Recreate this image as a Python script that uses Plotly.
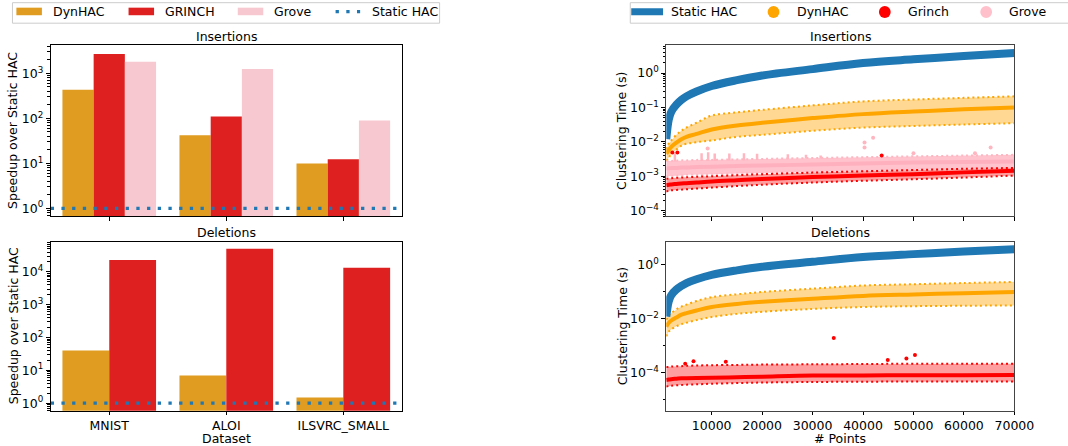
import plotly.graph_objects as go

# ---------------- speedup over Static HAC (bars) ----------------
datasets = ["MNIST", "ALOI", "ILSVRC_SMALL"]
ins_dynhac = [435, 42, 10]
ins_grinch = [2700, 110, 12.3]
ins_grove = [1810, 1260, 90]
del_dynhac = [40, 7, 1.5]
del_grinch = [23000, 50000, 13200]
static_speedup = 1.0

# ---------------- clustering time vs number of points ----------------
n_points = [1000, 1500, 2000, 3000, 4000, 5000, 7000, 10000, 15000,
            20000, 30000, 40000, 50000, 60000, 70000]
static_time = [0.012, 0.045, 0.075, 0.12, 0.165, 0.21, 0.29, 0.42, 0.62,
               0.85, 1.3, 1.95, 2.5, 3.1, 3.8]

# insertions
ins_dyn_med = [0.0045, 0.0058, 0.0072, 0.0095, 0.012, 0.014, 0.017, 0.023, 0.030,
               0.036, 0.049, 0.064, 0.076, 0.088, 0.10]
ins_dyn_hi = [0.006, 0.009, 0.011, 0.016, 0.021, 0.026, 0.036, 0.058, 0.072,
              0.085, 0.115, 0.15, 0.17, 0.19, 0.21]
ins_dyn_lo = [0.0028, 0.0035, 0.0045, 0.006, 0.0078, 0.0088, 0.0098, 0.011, 0.014,
              0.016, 0.021, 0.026, 0.029, 0.032, 0.035]
ins_grove_med = [1.7e-3, 1.7e-3, 1.75e-3, 1.75e-3, 1.8e-3, 1.8e-3, 1.85e-3, 1.9e-3, 2.0e-3,
                 2.05e-3, 2.2e-3, 2.35e-3, 2.5e-3, 2.6e-3, 2.7e-3]
ins_grove_hi = [2.8e-3, 2.8e-3, 2.8e-3, 2.85e-3, 2.9e-3, 2.9e-3, 3.0e-3, 3.0e-3, 3.1e-3,
                3.2e-3, 3.4e-3, 3.6e-3, 3.8e-3, 4.0e-3, 4.2e-3]
ins_grove_lo = [1.0e-3, 1.0e-3, 1.0e-3, 1.05e-3, 1.05e-3, 1.1e-3, 1.1e-3, 1.15e-3, 1.2e-3,
                1.25e-3, 1.35e-3, 1.45e-3, 1.55e-3, 1.65e-3, 1.7e-3]
ins_grinch_med = [5.5e-4, 5.7e-4, 5.8e-4, 6.0e-4, 6.2e-4, 6.3e-4, 6.6e-4, 7.1e-4, 7.7e-4,
                  8.3e-4, 9.5e-4, 1.05e-3, 1.15e-3, 1.3e-3, 1.45e-3]
ins_grinch_hi = [8.5e-4, 8.7e-4, 8.8e-4, 9.0e-4, 9.2e-4, 9.4e-4, 9.7e-4, 1.0e-3, 1.08e-3,
                 1.15e-3, 1.28e-3, 1.4e-3, 1.52e-3, 1.65e-3, 1.75e-3]
ins_grinch_lo = [3.6e-4, 3.8e-4, 3.9e-4, 4.0e-4, 4.1e-4, 4.2e-4, 4.4e-4, 4.7e-4, 5.2e-4,
                 5.7e-4, 6.6e-4, 7.4e-4, 8.2e-4, 9.2e-4, 1.05e-3]

# grove insertion spikes (x, base, top) and isolated outliers
grove_spike_x = [2700, 8000, 9300, 10600, 13500, 16400, 19000, 25100, 28700, 31600]
grove_spike_lo = [2.7e-3, 2.8e-3, 2.8e-3, 2.8e-3, 2.9e-3, 2.9e-3, 3.0e-3, 3.2e-3, 3.3e-3, 3.3e-3]
grove_spike_hi = [4.7e-3, 4.7e-3, 5.0e-3, 4.6e-3, 4.6e-3, 4.7e-3, 4.5e-3, 4.4e-3, 4.2e-3, 4.0e-3]
grove_out_x = [9200, 40300, 40300, 42000, 50000, 62200, 65300]
grove_out_y = [6.4e-3, 9.6e-3, 6.9e-3, 0.0131, 4.7e-3, 4.7e-3, 6.9e-3]
ins_grinch_out_x = [2200, 3200, 43700]
ins_grinch_out_y = [4.9e-3, 4.9e-3, 4.0e-3]

# deletions
del_dyn_med = [0.005, 0.007, 0.0085, 0.011, 0.014, 0.016, 0.02, 0.027, 0.035,
               0.042, 0.055, 0.07, 0.079, 0.088, 0.097]
del_dyn_hi = [0.009, 0.013, 0.016, 0.022, 0.028, 0.033, 0.045, 0.063, 0.08,
              0.098, 0.13, 0.17, 0.19, 0.21, 0.23]
del_dyn_lo = [0.0022, 0.0033, 0.004, 0.0052, 0.0062, 0.007, 0.0088, 0.0115, 0.015,
              0.018, 0.023, 0.027, 0.029, 0.030, 0.031]
del_grinch_med = [5.2e-5, 5.4e-5, 5.6e-5, 5.8e-5, 6.0e-5, 6.1e-5, 6.2e-5, 6.3e-5, 6.6e-5,
                  6.9e-5, 7.6e-5, 7.7e-5, 7.9e-5, 7.9e-5, 8.0e-5]
del_grinch_hi = [1.6e-4, 1.6e-4, 1.65e-4, 1.7e-4, 1.7e-4, 1.75e-4, 1.8e-4, 1.85e-4, 1.9e-4,
                 1.95e-4, 2.0e-4, 2.05e-4, 2.1e-4, 2.1e-4, 2.1e-4]
del_grinch_lo = [3.0e-5, 3.1e-5, 3.2e-5, 3.3e-5, 3.4e-5, 3.5e-5, 3.6e-5, 3.8e-5, 4.0e-5,
                 4.2e-5, 4.4e-5, 4.5e-5, 4.6e-5, 4.6e-5, 4.6e-5]
del_grinch_out_x = [4750, 6400, 12800, 34200, 44900, 48600, 50300]
del_grinch_out_y = [2.1e-4, 2.6e-4, 2.5e-4, 1.9e-3, 2.9e-4, 3.3e-4, 4.4e-4]

# ---------------- styling ----------------
W, H = 1068, 446
FONT = "DejaVu Sans"
FS = 12.5
BAR_DYN, BAR_GRINCH, BAR_GROVE = "#df9c20", "#df2020", "#f7c8d0"
BLUE = "#1f77b4"
ORANGE, RED, PINK = "#ffa500", "#ff0000", "#ffc0cb"


def px(x):
    return x / W


def py(y):
    return 1 - y / H


def sup(k):
    s = str(k).replace("-", "\u2212")
    return f"10<sup>{s}</sup>"


def minor_vals(lo, hi):
    return [m * 10 ** k for k in range(lo, hi + 1) for m in range(2, 10)]


fig = go.Figure()
ds_pos = list(range(len(datasets)))

# ---- left: insertions speedup ----
for vals, col in [(ins_dynhac, BAR_DYN), (ins_grinch, BAR_GRINCH), (ins_grove, BAR_GROVE)]:
    fig.add_trace(go.Bar(x=ds_pos, y=vals, marker=dict(color=col, line=dict(width=0)),
                         xaxis="x", yaxis="y", showlegend=False))
# ---- left: deletions speedup ----
for vals, col in [(del_dynhac, BAR_DYN), (del_grinch, BAR_GRINCH)]:
    fig.add_trace(go.Bar(x=ds_pos, y=vals, marker=dict(color=col, line=dict(width=0)),
                         xaxis="x2", yaxis="y2", showlegend=False))
# Static HAC reference line (speedup of 1)
for xa, ya in [("x", "y"), ("x2", "y2")]:
    fig.add_trace(go.Scatter(x=[-0.5, 2.5], y=[static_speedup, static_speedup], mode="lines",
                             line=dict(color=BLUE, width=3.3, dash="3.3px,7.4px"),
                             xaxis=xa, yaxis=ya, showlegend=False))


def band(x, lo, hi, med, color, fill, xa, ya, edge=True, med_w=4, edge_color=None):
    fig.add_trace(go.Scatter(x=x, y=lo, mode="lines", line=dict(width=0, color=fill),
                             xaxis=xa, yaxis=ya, showlegend=False, hoverinfo="skip"))
    fig.add_trace(go.Scatter(x=x, y=hi, mode="lines", line=dict(width=0, color=fill),
                             fill="tonexty", fillcolor=fill,
                             xaxis=xa, yaxis=ya, showlegend=False, hoverinfo="skip"))
    if edge:
        for e in (lo, hi):
            fig.add_trace(go.Scatter(x=x, y=e, mode="lines",
                                     line=dict(width=2, color=edge_color or color,
                                               dash="2px,3px", shape="spline"),
                                     xaxis=xa, yaxis=ya, showlegend=False))
    fig.add_trace(go.Scatter(x=x, y=med, mode="lines",
                             line=dict(width=med_w, color=color, shape="spline"),
                             xaxis=xa, yaxis=ya, showlegend=False))


# ---- right: insertions clustering time ----
band(n_points, ins_dyn_lo, ins_dyn_hi, ins_dyn_med, ORANGE, "rgba(255,165,0,0.42)", "x3", "y3")
band(n_points, ins_grove_lo, ins_grove_hi, ins_grove_med, "#ffb0be", "rgba(255,192,203,0.95)",
     "x3", "y3", edge=True, med_w=4, edge_color="#ffb6c1")
sx, sy = [], []
for x, lo, hi in zip(grove_spike_x, grove_spike_lo, grove_spike_hi):
    sx += [x, x, None]
    sy += [lo, hi, None]
fig.add_trace(go.Scatter(x=sx, y=sy, mode="lines", line=dict(color="#ffb6c1", width=2.5),
                         xaxis="x3", yaxis="y3", showlegend=False))
fig.add_trace(go.Scatter(x=grove_out_x, y=grove_out_y, mode="markers",
                         marker=dict(color="#ffb6c1", size=4), xaxis="x3", yaxis="y3",
                         showlegend=False))
band(n_points, ins_grinch_lo, ins_grinch_hi, ins_grinch_med, RED, "rgba(255,40,40,0.45)", "x3", "y3")
fig.add_trace(go.Scatter(x=ins_grinch_out_x, y=ins_grinch_out_y, mode="markers",
                         marker=dict(color=RED, size=4), xaxis="x3", yaxis="y3", showlegend=False))
fig.add_trace(go.Scatter(x=n_points, y=static_time, mode="lines",
                         line=dict(color=BLUE, width=8, shape="spline"),
                         xaxis="x3", yaxis="y3", showlegend=False))

# ---- right: deletions clustering time ----
band(n_points, del_dyn_lo, del_dyn_hi, del_dyn_med, ORANGE, "rgba(255,165,0,0.42)", "x4", "y4")
band(n_points, del_grinch_lo, del_grinch_hi, del_grinch_med, RED, "rgba(255,40,40,0.45)", "x4", "y4")
fig.add_trace(go.Scatter(x=del_grinch_out_x, y=del_grinch_out_y, mode="markers",
                         marker=dict(color=RED, size=4), xaxis="x4", yaxis="y4", showlegend=False))
fig.add_trace(go.Scatter(x=n_points, y=static_time, mode="lines",
                         line=dict(color=BLUE, width=8, shape="spline"),
                         xaxis="x4", yaxis="y4", showlegend=False))

# ---------------- axes ----------------
tickfont = dict(family=FONT, size=FS, color="black")
common = dict(showline=True, mirror=True, linecolor="black", linewidth=1, ticks="outside",
              ticklen=4, tickwidth=1, tickcolor="black", showgrid=False, zeroline=False,
              tickfont=tickfont)

LX = [px(51.7), px(409.5)]
RX = [px(679), px(1033.7)]
TOPY = [py(217.3), py(45.7)]
BOTY = [py(412.7), py(242.7)]


def logy(domain, anchor, rng, majors, minors, line="black"):
    return dict(common, type="log", domain=domain, anchor=anchor, range=rng, linecolor=line,
                tickmode="array", tickvals=[10 ** k for k in majors],
                ticktext=[sup(k) for k in majors],
                minor=dict(tickmode="array", tickvals=minors, ticks="outside",
                           ticklen=2.5, tickwidth=0.8, tickcolor="black"))


fig.update_layout(
    width=W, height=H, margin=dict(l=0, r=0, t=0, b=0),
    paper_bgcolor="white", plot_bgcolor="white",
    barmode="group", bargap=0.2, bargroupgap=0,
    font=dict(family=FONT, size=FS, color="black"),
    xaxis=dict(common, domain=LX, anchor="y", range=[-0.5, 2.5], tickmode="array",
               tickvals=ds_pos, showticklabels=False),
    yaxis=logy(TOPY, "x", [-0.177, 3.62], [0, 1, 2, 3], minor_vals(-1, 3)),
    xaxis2=dict(common, domain=LX, anchor="y2", range=[-0.5, 2.5], tickmode="array",
                tickvals=ds_pos, ticktext=datasets, ticklen=3),
    yaxis2=logy(BOTY, "x2", [-0.233, 4.92], [0, 1, 2, 3, 4], minor_vals(-1, 4)),
    xaxis3=dict(common, domain=RX, anchor="y3", range=[1000, 70000], tick0=0, dtick=10000,
                showticklabels=False, linecolor="#444"),
    yaxis3=logy(TOPY, "x3", [-4.163, 0.80], [-4, -3, -2, -1, 0], minor_vals(-5, 0), "#444"),
    xaxis4=dict(common, domain=RX, anchor="y4", range=[1000, 70000], tick0=0, dtick=10000,
                tickformat="d", ticklen=3, linecolor="#444"),
    yaxis4=logy(BOTY, "x4", [-5.43, 0.863], [-4, -2, 0], [1e-5, 1e-3, 1e-1], "#444"),
    showlegend=False,
)

# ---------------- titles and labels ----------------
ann = []


def text(x, y, s, angle=0, anchor="center"):
    ann.append(dict(x=px(x), y=py(y), xref="paper", yref="paper", text=s, showarrow=False,
                    textangle=angle, xanchor=anchor, yanchor="middle", borderpad=0,
                    font=dict(family=FONT, size=FS, color="black")))


text(230.6, 36.7, "Insertions")
text(230.6, 233.3, "Deletions")
text(856.4, 36.7, "Insertions")
text(856.4, 233.3, "Deletions")
text(13.3, 131.5, "Speedup over Static HAC", angle=-90)
text(13.3, 327.7, "Speedup over Static HAC", angle=-90)
text(634, 131.5, "Clustering Time (s)", angle=-90)
text(634, 327.7, "Clustering Time (s)", angle=-90)
text(230.6, 440.5, "Dataset")
text(856.4, 440.5, "# Points")

# ---------------- legends ----------------
shapes = []


def rect(x0, y0, x1, y1, fill, line="rgba(0,0,0,0)", lw=0):
    shapes.append(dict(type="rect", xref="paper", yref="paper", x0=px(x0), x1=px(x1),
                       y0=py(y1), y1=py(y0), fillcolor=fill, line=dict(color=line, width=lw),
                       layer="above"))


rect(12.7, 2.7, 448, 23.3, "rgba(255,255,255,0.8)", "#cccccc", 1)
legend_left = [("DynHAC", BAR_DYN, 16.7, 53.3), ("GRINCH", BAR_GRINCH, 131, 166.7),
               ("Grove", BAR_GROVE, 242.3, 278.3)]
for name, col, x0, tx in legend_left:
    rect(x0, 7.7, x0 + 26, 15.3, col)
    text(tx, 11.7, name, anchor="left")
shapes.append(dict(type="line", xref="paper", yref="paper", x0=px(342), x1=px(367),
                   y0=py(11.7), y1=py(11.7), layer="above",
                   line=dict(color=BLUE, width=3.3, dash="3.3px,7.4px")))
text(377.7, 11.7, "Static HAC", anchor="left")

rect(642.3, 2.7, 1100, 23.3, "rgba(255,255,255,0.8)", "#cccccc", 1)
shapes.append(dict(type="line", xref="paper", yref="paper", x0=px(643.3), x1=px(675.7),
                   y0=py(11.7), y1=py(11.7), layer="above", line=dict(color=BLUE, width=7)))
text(682.7, 11.7, "Static HAC", anchor="left")
for name, col, cx, tx in [("DynHAC", ORANGE, 788.3, 811), ("Grinch", RED, 901.7, 924.3),
                          ("Grove", PINK, 1005, 1027.7)]:
    shapes.append(dict(type="circle", xref="paper", yref="paper", x0=px(cx - 6), x1=px(cx + 6),
                       y0=py(18), y1=py(6), fillcolor=col, line=dict(width=0), layer="above"))
    text(tx, 11.7, name, anchor="left")

fig.update_layout(annotations=ann, shapes=shapes)
fig.write_html("out.html")
